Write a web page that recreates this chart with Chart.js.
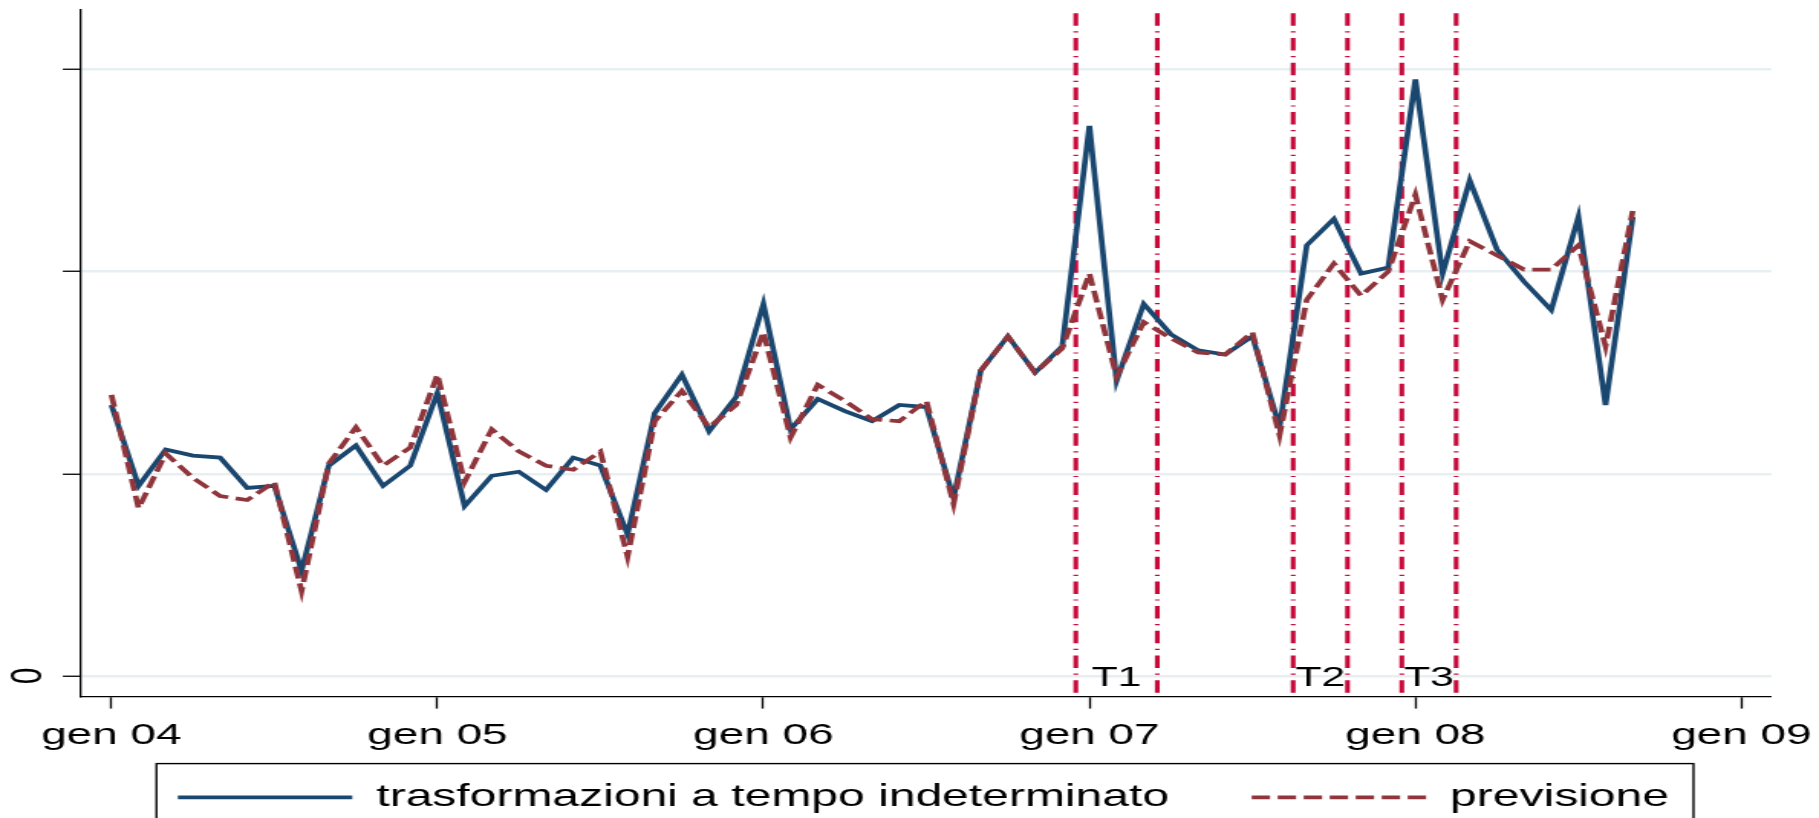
<!DOCTYPE html>
<html lang="it">
<head>
<meta charset="utf-8">
<title>Trasformazioni a tempo indeterminato e previsione</title>
<script src="https://cdn.jsdelivr.net/npm/chart.js@4.4.1/dist/chart.umd.min.js"></script>
<style>
  html, body { margin: 0; padding: 0; background: #fff; }
</style>
</head>
<body>
<!-- the original graph is stretched sideways, so the canvas is drawn narrow and widened by css -->
<canvas id="grafico" width="1189" height="818" style="display:block;width:1819px;height:818px"></canvas>
<script>
// mesi a partire da gen 04 (0 = gen 04, 56 = set 08)
const mesi = Array.from({ length: 57 }, (_, i) => i);

const trasformazioni = [
  1.34, 0.94, 1.12, 1.09, 1.08, 0.93, 0.94, 0.52, 1.04, 1.14, 0.94, 1.04,
  1.40, 0.84, 0.99, 1.01, 0.92, 1.08, 1.04, 0.70, 1.30, 1.49, 1.21, 1.38,
  1.84, 1.22, 1.37, 1.31, 1.26, 1.34, 1.33, 0.88, 1.51, 1.68, 1.50, 1.63,
  2.72, 1.46, 1.84, 1.69, 1.61, 1.59, 1.68, 1.23, 2.13, 2.26, 1.99, 2.02,
  2.95, 1.99, 2.45, 2.11, 1.95, 1.81, 2.27, 1.34, 2.27
];

const previsione = [
  1.39, 0.83, 1.10, 0.98, 0.89, 0.87, 0.96, 0.42, 1.05, 1.23, 1.04, 1.13,
  1.49, 0.96, 1.22, 1.11, 1.04, 1.02, 1.11, 0.59, 1.26, 1.41, 1.23, 1.34,
  1.70, 1.18, 1.44, 1.36, 1.27, 1.26, 1.36, 0.85, 1.51, 1.68, 1.50, 1.62,
  1.99, 1.48, 1.75, 1.67, 1.60, 1.59, 1.70, 1.19, 1.86, 2.04, 1.88, 2.00,
  2.38, 1.86, 2.15, 2.08, 2.01, 2.01, 2.13, 1.63, 2.30
];

const tickMesi = [0, 12, 24, 36, 48, 60];
const tickEtichette = ["gen 04", "gen 05", "gen 06", "gen 07", "gen 08", "gen 09"];
const yTicks = [0, 1, 2, 3];

// linee verticali dei periodi T1, T2, T3 (inizio, fine)
const periodi = [[35.5, 38.5], [43.5, 45.5], [47.5, 49.5]];
const nomiPeriodi = ["T1", "T2", "T3"];

const BLU = "#1a476f";
const ROSSO = "#90353b";
const CREMISI = "#c70a3a";

Chart.defaults.font.family = "'Liberation Sans', Arial, sans-serif";
Chart.defaults.color = "#000";

const sfondo = {
  id: "sfondo",
  beforeDraw(chart) {
    const ctx = chart.ctx;
    ctx.save();
    ctx.fillStyle = "#fff";
    ctx.fillRect(0, 0, chart.width, chart.height);
    ctx.restore();
  }
};

// labels are clipped to the scale boxes, so widen the boxes after the layout is fixed
const allarga = {
  id: "allarga",
  afterLayout(chart) {
    chart.scales.y.left = 0;
    chart.scales.x.bottom = chart.height;
  }
};

const lineePeriodi = {
  id: "lineePeriodi",
  beforeDatasetsDraw(chart) {
    const { ctx, chartArea, scales: { x, y } } = chart;
    ctx.save();
    ctx.strokeStyle = CREMISI;
    ctx.lineWidth = 3.1;
    ctx.setLineDash([12.5, 5.5, 1.2, 5.5]);
    periodi.forEach(p => {
      p.forEach(v => {
        const px = x.getPixelForValue(v);
        ctx.beginPath();
        ctx.moveTo(px, chartArea.top + 4);
        ctx.lineTo(px, chartArea.bottom);
        ctx.stroke();
      });
    });
    ctx.setLineDash([]);
    ctx.fillStyle = "#000";
    ctx.font = "28px 'Liberation Sans', Arial, sans-serif";
    ctx.textAlign = "center";
    ctx.textBaseline = "alphabetic";
    periodi.forEach((p, i) => {
      const px = x.getPixelForValue((p[0] + p[1]) / 2);
      ctx.fillText(nomiPeriodi[i], px, y.getPixelForValue(0) + 10);
    });
    ctx.restore();
  }
};

const cornice = {
  id: "cornice",
  afterDraw(chart) {
    const lg = chart.legend;
    const hb = lg.legendHitBoxes;
    if (!hb || !hb.length) return;
    const last = hb[hb.length - 1];
    const l = hb[0].left - 14;
    const r = last.left + last.width + 16;
    const ctx = chart.ctx;
    ctx.save();
    ctx.strokeStyle = "#000";
    ctx.lineWidth = 1.4;
    ctx.strokeRect(l, lg.top + 36, r - l, 120);
    ctx.restore();
  }
};

const data = {
  datasets: [
    {
      label: "trasformazioni a tempo indeterminato",
      data: mesi.map((m, i) => ({ x: m, y: trasformazioni[i] })),
      borderColor: BLU,
      backgroundColor: BLU,
      borderWidth: 3.7,
      pointRadius: 0,
      tension: 0,
      order: 1
    },
    {
      label: "previsione",
      data: mesi.map((m, i) => ({ x: m, y: previsione[i] })),
      borderColor: ROSSO,
      backgroundColor: ROSSO,
      borderWidth: 3.7,
      borderDash: [12, 5],
      pointRadius: 0,
      tension: 0,
      order: 0
    }
  ]
};

const config = {
  type: "line",
  data: data,
  options: {
    responsive: false,
    animation: false,
    devicePixelRatio: 1,
    layout: { padding: { left: 49.4, right: 31.2, top: 9.3, bottom: -5 } },
    scales: {
      x: {
        type: "linear",
        min: -1.11,
        max: 61.1,
        afterBuildTicks: s => { s.ticks = tickMesi.map(v => ({ value: v })); },
        afterFit: s => { s.height = 31; s.paddingLeft = 0; s.paddingRight = 0; },
        grid: { drawOnChartArea: false, drawTicks: true, tickLength: 12, tickColor: "#000", tickWidth: 1.3 },
        border: { display: true, color: "#000", width: 1.3 },
        ticks: {
          autoSkip: false,
          maxRotation: 0,
          padding: 9,
          color: "#000",
          font: { size: 30 },
          callback: v => tickEtichette[tickMesi.indexOf(v)]
        }
      },
      y: {
        min: -0.102,
        max: 3.297,
        afterBuildTicks: s => { s.ticks = yTicks.map(v => ({ value: v })); },
        afterFit: s => { s.width = 3.7; s.paddingTop = 0; s.paddingBottom = 0; },
        grid: { color: "#e8eff2", lineWidth: 2.5, drawTicks: true, tickLength: 12, tickColor: "#000", tickWidth: 1.3 },
        border: { display: true, color: "#000", width: 1.3 },
        ticks: {
          autoSkip: false,
          padding: 22.7,
          minRotation: 90,
          maxRotation: 90,
          labelOffset: -8.3,
          color: "#000",
          font: { size: 30 },
          callback: v => (v === 0 ? "0" : "")
        }
      }
    },
    plugins: {
      legend: {
        position: "bottom",
        align: "center",
        labels: {
          usePointStyle: true,
          pointStyle: "line",
          pointStyleWidth: 114,
          padding: 54,
          color: "#000",
          font: { size: 31.4 },
          sort: (a, b) => a.datasetIndex - b.datasetIndex,
          generateLabels: chart => {
            const items = Chart.defaults.plugins.legend.labels.generateLabels(chart);
            items.forEach(it => {
              const ds = chart.data.datasets[it.datasetIndex];
              it.lineDash = ds.borderDash || [];
              it.lineWidth = ds.borderWidth;
              it.strokeStyle = ds.borderColor;
            });
            return items;
          }
        }
      },
      tooltip: { enabled: false }
    }
  },
  plugins: [sfondo, allarga, lineePeriodi, cornice]
};

const grafico = new Chart(document.getElementById("grafico"), config);
</script>
</body>
</html>
